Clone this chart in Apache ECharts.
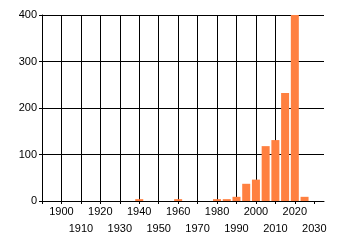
<!DOCTYPE html>
<html><head><meta charset="utf-8">
<script src="https://cdn.jsdelivr.net/npm/echarts@6/dist/echarts.min.js"></script>
<style>html,body{margin:0;padding:0;background:#fff}#c{width:340px;height:245px}</style>
</head><body><div id="c"></div>
<script>
const years = [1940, 1960, 1980, 1985, 1990, 1995, 2000, 2005, 2010, 2015, 2020, 2025];
const counts = [4, 4, 4, 4, 9, 37, 46, 118, 131, 232, 400, 9];
const xTicks = [1890, 1900, 1910, 1920, 1930, 1940, 1950, 1960, 1970, 1980, 1990, 2000, 2010, 2020, 2030];
const xLabelsUpper = [1900, 1920, 1940, 1960, 1980, 2000, 2020];
const xLabelsLower = [1910, 1930, 1950, 1970, 1990, 2010, 2030];
const yTicks = [0, 100, 200, 300, 400];

const chart = echarts.init(document.getElementById('c'), null, {renderer: 'canvas'});
const font = 'Liberation Sans';
const lbl = {hideOverlap: false, showMinLabel: true, showMaxLabel: true,
  color: '#000', fontFamily: font, fontSize: 11, formatter: v => String(v)};
chart.setOption({
  animation: false,
  grid: {left: 42, right: 16, top: 15, bottom: 44, containLabel: false},
  xAxis: [{
    type: 'value', min: 1890, max: 2035, interval: 10, position: 'bottom',
    axisLine: {show: true, lineStyle: {color: '#000', width: 1}},
    axisTick: {show: true, length: 3, customValues: xTicks, lineStyle: {color: '#000'}},
    splitLine: {show: true, showMinLine: false, showMaxLine: false, lineStyle: {color: '#000', width: 1}},
    axisLabel: Object.assign({customValues: xLabelsUpper, margin: 5}, lbl)
  }, {
    type: 'value', min: 1890, max: 2035, interval: 10, position: 'bottom', offset: 0,
    axisLine: {show: false}, axisTick: {show: false}, splitLine: {show: false},
    axisLabel: Object.assign({customValues: xLabelsLower, margin: 22}, lbl)
  }],
  yAxis: {
    type: 'value', min: 0, max: 400, interval: 100,
    axisLine: {show: true, lineStyle: {color: '#000', width: 1}},
    axisTick: {show: true, length: 3, lineStyle: {color: '#000'}},
    splitLine: {show: true, lineStyle: {color: '#000', width: 1}},
    axisLabel: Object.assign({margin: 5, customValues: yTicks}, lbl)
  },
  series: [{
    type: 'bar',
    xAxisIndex: 0,
    data: years.map((y, i) => [y, counts[i]]),
    barWidth: 8,
    itemStyle: {color: '#ff8040'}
  }]
});
</script></body></html>
